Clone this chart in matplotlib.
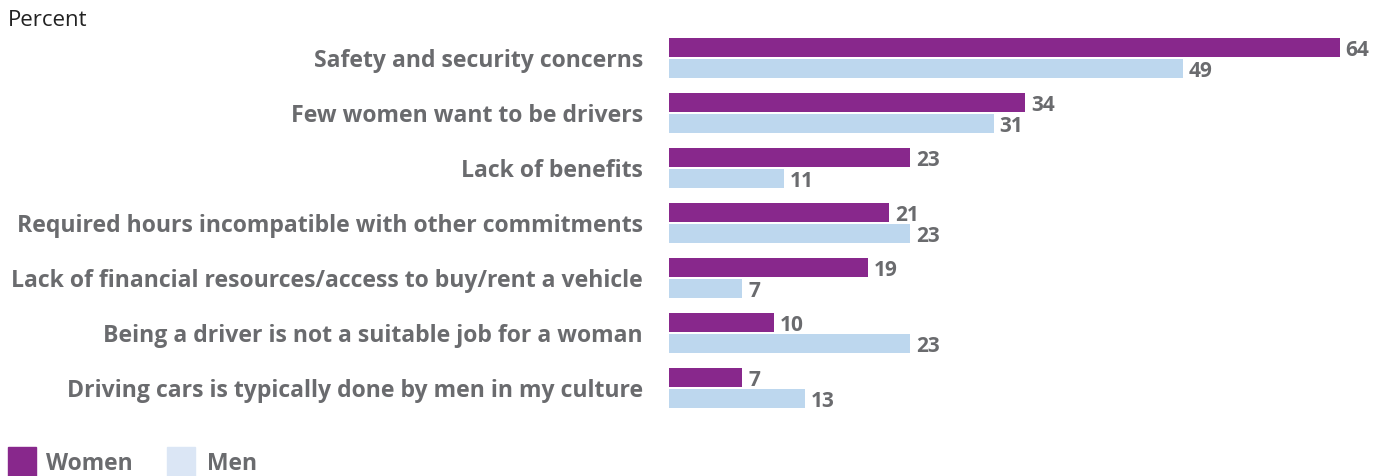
import matplotlib
matplotlib.use("Agg")
import matplotlib.pyplot as plt
from matplotlib.patches import Rectangle
import numpy as np

categories = [
    "Safety and security concerns",
    "Few women want to be drivers",
    "Lack of benefits",
    "Required hours incompatible with other commitments",
    "Lack of financial resources/access to buy/rent a vehicle",
    "Being a driver is not a suitable job for a woman",
    "Driving cars is typically done by men in my culture",
]
women = [64, 34, 23, 21, 19, 10, 7]
men = [49, 31, 11, 23, 7, 23, 13]

PURPLE = "#88288c"
LIGHT = "#bdd7ee"
LEGEND_LIGHT = "#dbe6f5"
GRAY = "#6a6b6e"

plt.rcParams["font.family"] = ["Open Sans", "DejaVu Sans"]

W, H = 1384, 477
fig = plt.figure(figsize=(W / 100, H / 100), dpi=100)
fig.patch.set_facecolor("white")

# axes placed in pixel coordinates
left, right, top, bottom = 669, 1384, 20, 430
ax = fig.add_axes([left / W, 1 - bottom / H, (right - left) / W, (bottom - top) / H])
ax.set_xlim(0, (right - left) / 10.48)
ax.set_ylim(6 + (bottom - 389) / 55, -(59 - top) / 55)
ax.axis("off")

y = np.arange(len(categories))
bh = 0.35
ax.barh(y - 0.19, women, height=bh, color=PURPLE)
ax.barh(y + 0.19, men, height=bh, color=LIGHT)

dy = 0.035  # text sits a touch below bar centres
for yi, w, m in zip(y, women, men):
    ax.text(w + 0.55, yi - 0.19 + dy, str(w), va="center", ha="left",
            fontsize=15, fontweight="bold", color=GRAY)
    ax.text(m + 0.55, yi + 0.19 + dy, str(m), va="center", ha="left",
            fontsize=15, fontweight="bold", color=GRAY)

for yi, c in zip(y, categories):
    ax.text(-2.5, yi + dy, c, va="center", ha="right",
            fontsize=16.6, fontweight="bold", color=GRAY)

fig.text(8 / W, 1 - 20 / H, "Percent", fontsize=16, color="#222222",
         va="center", ha="left")

# legend
for x0, col, lab, tx in [(8, PURPLE, "Women", 46), (167, LEGEND_LIGHT, "Men", 207)]:
    fig.patches.append(Rectangle((x0 / W, 0), 28 / W, 29 / H,
                                 transform=fig.transFigure, color=col))
    fig.text(tx / W, 0.5 / H, lab, fontsize=16.5, fontweight="bold",
             color=GRAY, va="bottom", ha="left")

fig.savefig("out.png", dpi=100, facecolor="white")
